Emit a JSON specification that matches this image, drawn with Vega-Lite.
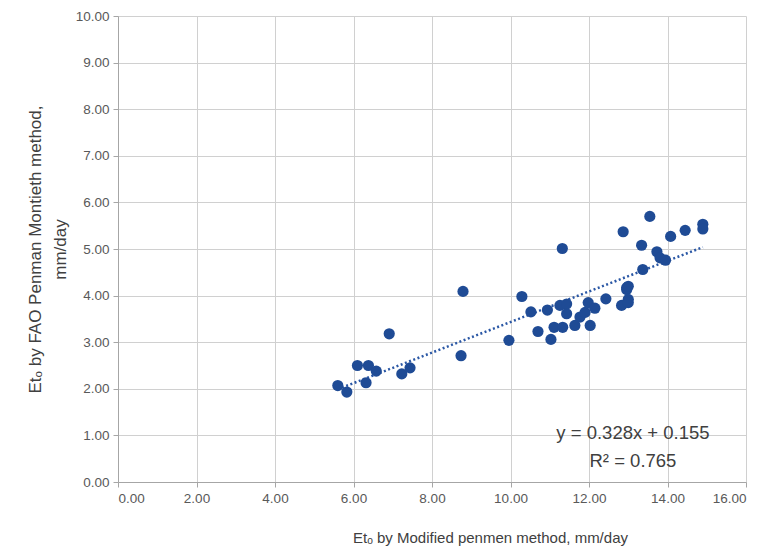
{
  "$schema": "https://vega.github.io/schema/vega-lite/v6.json",
  "autosize": {"type": "none"},
  "padding": {"left": 118, "top": 16, "right": 19, "bottom": 71},
  "width": 628,
  "height": 466,
  "config": {
    "view": {"stroke": null},
    "font": "Liberation Sans",
    "axis": {
      "gridColor": "#D0D0D0",
      "gridWidth": 1,
      "domainColor": "#A6A6A6",
      "tickColor": "#A6A6A6",
      "tickSize": 5,
      "labelColor": "#595959",
      "labelFontSize": 13.5,
      "titleColor": "#404040",
      "titleFontSize": 16,
      "titleFontWeight": "normal",
      "labelFont": "Liberation Sans",
      "titleFont": "Liberation Sans"
    }
  },
  "datasets": {
    "pts": [
      {"x": 5.60, "y": 2.07}, {"x": 5.83, "y": 1.93}, {"x": 6.10, "y": 2.50}, {"x": 6.38, "y": 2.50},
      {"x": 6.32, "y": 2.13}, {"x": 6.58, "y": 2.38}, {"x": 6.91, "y": 3.18}, {"x": 7.23, "y": 2.32},
      {"x": 7.44, "y": 2.45}, {"x": 8.74, "y": 2.71}, {"x": 8.79, "y": 4.09}, {"x": 9.96, "y": 3.04},
      {"x": 10.29, "y": 3.98}, {"x": 10.52, "y": 3.65}, {"x": 10.70, "y": 3.23}, {"x": 10.94, "y": 3.69},
      {"x": 11.03, "y": 3.06}, {"x": 11.11, "y": 3.32}, {"x": 11.26, "y": 3.79}, {"x": 11.33, "y": 3.32},
      {"x": 11.32, "y": 5.01}, {"x": 11.43, "y": 3.82}, {"x": 11.43, "y": 3.61}, {"x": 11.64, "y": 3.36},
      {"x": 11.77, "y": 3.54}, {"x": 11.90, "y": 3.64}, {"x": 11.98, "y": 3.85}, {"x": 12.15, "y": 3.73},
      {"x": 12.03, "y": 3.36}, {"x": 12.43, "y": 3.93}, {"x": 12.83, "y": 3.79}, {"x": 12.87, "y": 5.37},
      {"x": 12.96, "y": 4.17}, {"x": 12.96, "y": 4.13}, {"x": 13.00, "y": 4.20}, {"x": 13.00, "y": 3.92},
      {"x": 13.00, "y": 3.85}, {"x": 13.34, "y": 5.08}, {"x": 13.37, "y": 4.56}, {"x": 13.55, "y": 5.70},
      {"x": 13.73, "y": 4.94}, {"x": 13.81, "y": 4.81}, {"x": 13.95, "y": 4.76}, {"x": 14.08, "y": 5.27},
      {"x": 14.45, "y": 5.40}, {"x": 14.90, "y": 5.53}, {"x": 14.90, "y": 5.43}
    ],
    "trend": [
      {"x": 5.60, "y": 1.99},
      {"x": 14.90, "y": 5.04}
    ],
    "labels": [
      {"x": 13.12, "y": 1.06, "t": "y = 0.328x + 0.155"},
      {"x": 13.12, "y": 0.46, "t": "R² = 0.765"}
    ]
  },
  "layer": [
    {
      "data": {"name": "trend"},
      "mark": {"type": "line", "color": "#2A57A5", "strokeWidth": 2.5, "strokeDash": [2, 2.5]},
      "encoding": {
        "x": {
          "field": "x", "type": "quantitative",
          "scale": {"domain": [0, 16], "nice": false, "zero": false},
          "axis": {
            "values": [0, 2, 4, 6, 8, 10, 12, 14, 16],
            "format": ".2f",
            "title": "Etₒ by Modified penmen method, mm/day",
            "labelPadding": 4,
            "titleFontSize": 15,
            "titleX": 372,
            "titleY": 55,
            "titleBaseline": "middle",
            "titleAnchor": null
          }
        },
        "y": {
          "field": "y", "type": "quantitative",
          "scale": {"domain": [0, 10], "nice": false},
          "axis": {
            "values": [0, 1, 2, 3, 4, 5, 6, 7, 8, 9, 10],
            "format": ".2f",
            "title": ["Etₒ by FAO Penman Montieth method,", "mm/day"],
            "labelPadding": 4,
            "titleFontSize": 17,
            "titleX": -83,
            "titleY": 233,
            "titleBaseline": "middle",
            "titleAngle": -90,
            "titleLineHeight": 25
          }
        }
      }
    },
    {
      "data": {"name": "pts"},
      "mark": {"type": "circle", "size": 125, "color": "#1F4B95", "opacity": 1},
      "encoding": {
        "x": {"field": "x", "type": "quantitative"},
        "y": {"field": "y", "type": "quantitative"}
      }
    },
    {
      "data": {"name": "labels"},
      "mark": {"type": "text", "fontSize": 18.5, "color": "#404040", "align": "center", "baseline": "middle", "font": "Liberation Sans"},
      "encoding": {
        "x": {"field": "x", "type": "quantitative"},
        "y": {"field": "y", "type": "quantitative"},
        "text": {"field": "t"}
      }
    }
  ]
}
